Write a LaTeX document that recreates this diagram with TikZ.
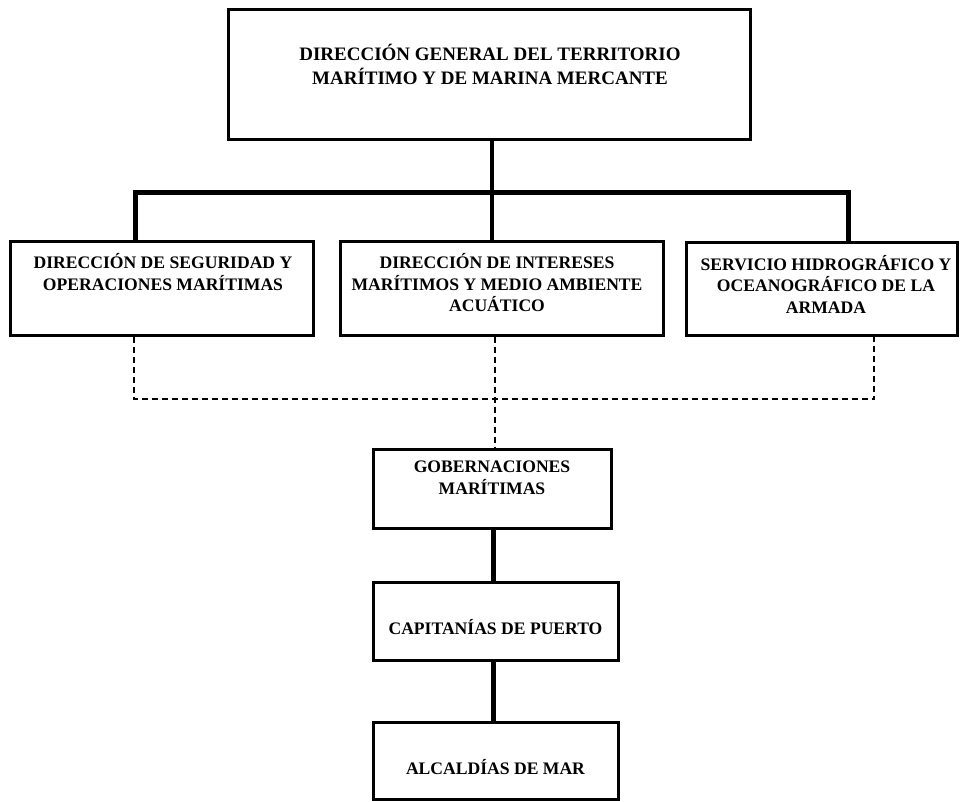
\documentclass[tikz,border=0pt]{standalone}
\usepackage{fontspec}
\setmainfont{Liberation Serif}
\begin{document}
\begin{tikzpicture}[x=1pt,y=-1pt,
  box/.style={draw=black,line width=3pt,fill=white,inner sep=0pt},
  txt/.style={align=center,font=\bfseries\fontsize{17.6}{21.5}\selectfont,inner sep=0pt},
  bigtxt/.style={align=center,font=\bfseries\fontsize{19}{24}\selectfont,inner sep=0pt},
  thick link/.style={line width=5pt},
  dash link/.style={line width=1.4pt,dash pattern=on 6pt off 4pt}]
\useasboundingbox (0,0) rectangle (961,802);
% boxes
\node[box,minimum width=522pt,minimum height=130pt] (top) at (489,75) {};
\node[box,minimum width=303pt,minimum height=93pt] (dso) at (161.5,288.5) {};
\node[box,minimum width=323pt,minimum height=93pt] (dim) at (501.5,288.5) {};
\node[box,minimum width=271pt,minimum height=92pt] (sho) at (821.5,289) {};
\node[box,minimum width=238pt,minimum height=79pt] (gob) at (492,488.5) {};
\node[box,minimum width=245pt,minimum height=78pt] (cap) at (495.5,621) {};
\node[box,minimum width=245pt,minimum height=77pt] (alc) at (495.5,760.5) {};
% texts
\node[bigtxt] (ttop) at (490,64) {DIRECCIÓN GENERAL DEL TERRITORIO\\MARÍTIMO Y DE MARINA MERCANTE};
\node[txt] (tdso) at (163,272) {DIRECCIÓN DE SEGURIDAD Y\\OPERACIONES MARÍTIMAS};
\node[txt] (tdim) at (497,283) {DIRECCIÓN DE INTERESES\\MARÍTIMOS Y MEDIO AMBIENTE\\ACUÁTICO};
\node[txt] (tsho) at (826,284) {SERVICIO HIDROGRÁFICO Y\\OCEANOGRÁFICO DE LA\\ARMADA};
\node[txt] (tgob) at (492,478) {GOBERNACIONES\\MARÍTIMAS};
\node[txt] (tcap) at (495.5,627) {CAPITANÍAS DE PUERTO};
\node[txt] (talc) at (495.5,767) {ALCALDÍAS DE MAR};
% solid connectors
\coordinate (bus) at (492,193);
\draw[line width=3.5pt] (top.south -| bus) -- (bus);
\draw[thick link,line cap=rect] (dso.north -| 135,0) -- (135,193) -- (848,193) -- (sho.north -| 848,0);
\draw[line width=4pt] (bus) -- (dim.north -| bus);
\draw[thick link] (gob.south -| 493,0) -- (cap.north -| 493,0);
\draw[thick link] (cap.south -| 493,0) -- (alc.north -| 493,0);
% dashed connectors
\coordinate (dl) at (134,399);
\coordinate (dr) at (874,399);
\draw[dash link] (dso.south -| dl) -- (dl) -- (dr) -- (sho.south -| dr);
\draw[dash link] (dim.south -| 495,0) -- (495,399) -- (gob.north -| 495,0);
\end{tikzpicture}
\end{document}
